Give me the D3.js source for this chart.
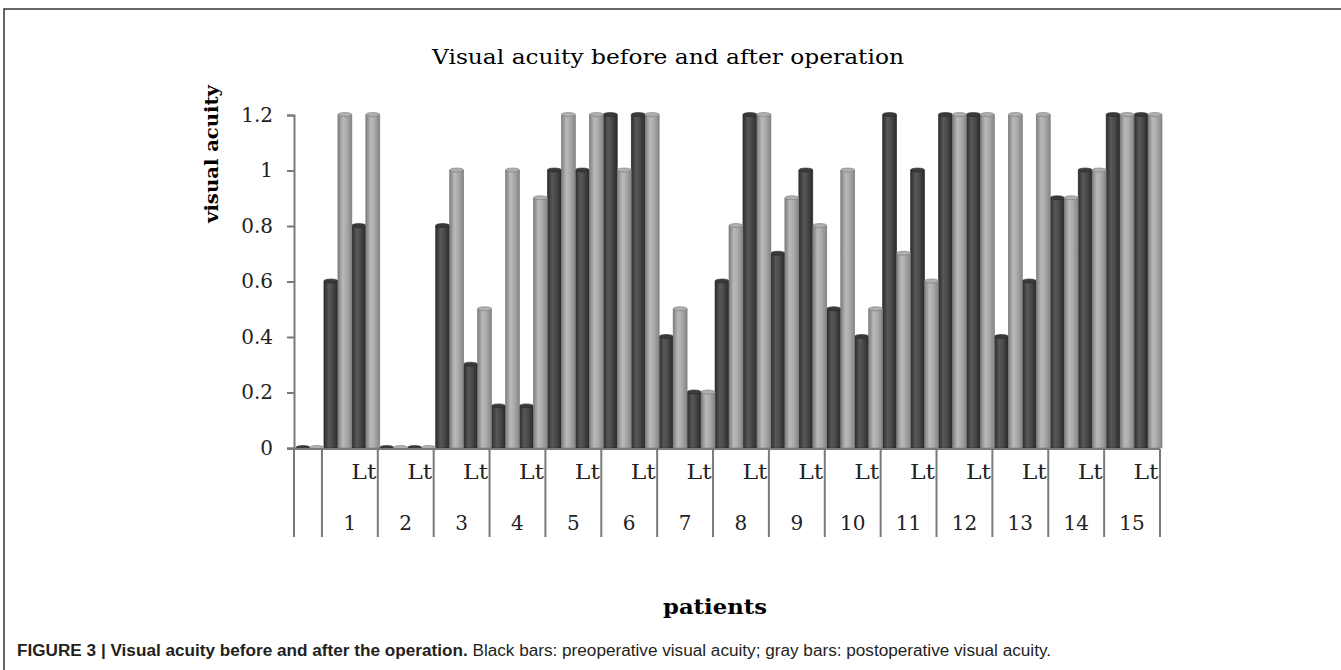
<!DOCTYPE html>
<html>
<head>
<meta charset="utf-8">
<script src="https://cdn.jsdelivr.net/npm/d3@7"></script>
<style>
  body { margin: 0; background: #fff; }
  svg { display: block; }
</style>
</head>
<body>
<svg id="chart" width="1341" height="670"></svg>
<script>
// patients and eyes; first slot is the blank leading category from the sheet
const patients = ["1","2","3","4","5","6","7","8","9","10","11","12","13","14","15"];
const sides = ["Rt", "Lt"];
const yTicks = [0, 0.2, 0.4, 0.6, 0.8, 1, 1.2];

// one value per slot: blank, then Rt, Lt for each patient
const preop  = [0, 0.6, 0.8, 0, 0, 0.8, 0.3, 0.15, 0.15, 1.0, 1.0, 1.2, 1.2, 0.4, 0.2,
                0.6, 1.2, 0.7, 1.0, 0.5, 0.4, 1.2, 1.0, 1.2, 1.2, 0.4, 0.6, 0.9, 1.0, 1.2, 1.2];
const postop = [0, 1.2, 1.2, 0, 0, 1.0, 0.5, 1.0, 0.9, 1.2, 1.2, 1.0, 1.2, 0.5, 0.2,
                0.8, 1.2, 0.9, 0.8, 1.0, 0.5, 0.7, 0.6, 1.2, 1.2, 1.2, 1.2, 0.9, 1.0, 1.2, 1.2];

const slots = [{ id: "s0", patient: "", side: "" }];
patients.forEach(p => sides.forEach(s => slots.push({ id: p + s, patient: p, side: s })));
slots.forEach((d, i) => { d.pre = preop[i]; d.post = postop[i]; });

const svg = d3.select("#chart");
const margin = { left: 294, right: 181, top: 115, bottom: 222 };
const width = 1341 - margin.left - margin.right,
  height = 670 - margin.top - margin.bottom;

// frame around the figure (right and bottom fall outside the crop)
svg.append("rect")
  .attr("x", 4).attr("y", 9)
  .attr("width", 1400).attr("height", 700)
  .attr("fill", "none").attr("stroke", "#333").attr("stroke-width", 1.5);

const defs = svg.append("defs");
const grad = (id, stops) => {
  const g = defs.append("linearGradient").attr("id", id)
    .attr("x1", "0%").attr("x2", "100%").attr("y1", "0%").attr("y2", "0%");
  stops.forEach(([o, c]) => g.append("stop").attr("offset", o).attr("stop-color", c));
};
grad("gDark", [["0%", "#2c2c2c"], ["35%", "#585858"], ["60%", "#4a4a4a"], ["100%", "#2a2a2a"]]);
grad("gGray", [["0%", "#7e7e7e"], ["35%", "#b9b9b9"], ["60%", "#acacac"], ["100%", "#858585"]]);

const g = svg.append("g").attr("transform", `translate(${margin.left},${margin.top})`);

const x = d3.scaleBand().domain(slots.map(d => d.id)).range([0, width]).padding(0);
const xs = d3.scaleBand().domain(["pre", "post"]).range([0, x.bandwidth()]).padding(0);
const y = d3.scaleLinear().domain([0, 1.2]).range([height, 0]);

// y axis
const yAxis = g.append("g")
  .call(d3.axisLeft(y).tickValues(yTicks).tickSize(7).tickPadding(14)
    .tickFormat(d => d === 0 || d === 1 ? d3.format("d")(d) : d3.format(".1f")(d)));
yAxis.select(".domain").attr("stroke", "#7a7a7a").attr("stroke-width", 2);
yAxis.selectAll(".tick line").attr("stroke", "#7a7a7a").attr("stroke-width", 2);
yAxis.selectAll(".tick text")
  .attr("font-family", "DejaVu Serif").attr("font-size", 20).attr("fill", "#222");

// bars
const series = [
  { key: "pre", fill: "url(#gDark)", cap: "#3a3a3a", edge: "#2a2a2a" },
  { key: "post", fill: "url(#gGray)", cap: "#b0b0b0", edge: "#777" }
];
const shift = 2;
const bw = xs.bandwidth();
series.forEach(s => {
  const sg = g.append("g");
  sg.selectAll("rect").data(slots).join("rect")
    .attr("x", d => x(d.id) + xs(s.key) + shift)
    .attr("y", d => y(d[s.key]))
    .attr("width", bw)
    .attr("height", d => height - y(d[s.key]))
    .attr("fill", s.fill)
    .attr("stroke", s.edge).attr("stroke-width", 0.6);
  sg.selectAll("ellipse").data(slots).join("ellipse")
    .attr("cx", d => x(d.id) + xs(s.key) + shift + bw / 2)
    .attr("cy", d => y(d[s.key]) - 0.5)
    .attr("rx", bw / 2).attr("ry", 2)
    .attr("fill", s.cap).attr("stroke", s.edge).attr("stroke-width", 0.6);
});

// x axis line
g.append("line")
  .attr("x1", -7).attr("x2", width)
  .attr("y1", height + 1).attr("y2", height + 1)
  .attr("stroke", "#7a7a7a").attr("stroke-width", 2);

// group separators between patients
const bounds = [0].concat(slots.map((d, i) => i).filter(i => i % 2 === 1).map(i => x(slots[i].id)), [width]);
g.selectAll(".sep").data(bounds).join("line")
  .attr("class", "sep")
  .attr("x1", d => d).attr("x2", d => d)
  .attr("y1", height + 1).attr("y2", height + 89)
  .attr("stroke", "#7a7a7a").attr("stroke-width", 2);

// inner labels: every other slot is shown (Lt)
g.selectAll(".inner").data(slots.filter(d => d.side === "Lt")).join("text")
  .attr("class", "inner")
  .attr("x", d => x(d.id) + x.bandwidth() / 2)
  .attr("y", height + 31)
  .attr("text-anchor", "middle")
  .attr("font-family", "DejaVu Serif").attr("font-size", 20).attr("fill", "#222")
  .attr("textLength", 25).attr("lengthAdjust", "spacingAndGlyphs")
  .text(d => d.side);

// outer labels: patient numbers centred over their two slots
g.selectAll(".outer").data(patients).join("text")
  .attr("class", "outer")
  .attr("x", p => x(p + "Rt") + x.bandwidth())
  .attr("y", height + 82)
  .attr("text-anchor", "middle")
  .attr("font-family", "DejaVu Serif").attr("font-size", 20).attr("fill", "#222")
  .text(p => p);

// titles
svg.append("text")
  .attr("x", 668).attr("y", 64)
  .attr("text-anchor", "middle")
  .attr("font-family", "DejaVu Serif").attr("font-size", 20)
  .attr("textLength", 472).attr("lengthAdjust", "spacingAndGlyphs")
  .text("Visual acuity before and after operation");

svg.append("text")
  .attr("transform", "translate(218,154) rotate(-90)")
  .attr("text-anchor", "middle")
  .attr("font-family", "DejaVu Serif").attr("font-size", 19).attr("font-weight", "bold")
  .attr("textLength", 138).attr("lengthAdjust", "spacingAndGlyphs")
  .text("visual acuity");

svg.append("text")
  .attr("x", 715).attr("y", 614)
  .attr("text-anchor", "middle")
  .attr("font-family", "DejaVu Serif").attr("font-size", 20).attr("font-weight", "bold")
  .attr("textLength", 104).attr("lengthAdjust", "spacingAndGlyphs")
  .text("patients");

// caption
const cap = svg.append("text")
  .attr("x", 17).attr("y", 656)
  .attr("font-family", "Liberation Sans").attr("font-size", 16).attr("fill", "#231f20")
  .attr("textLength", 1034).attr("lengthAdjust", "spacingAndGlyphs");
cap.append("tspan").attr("font-weight", "bold").text("FIGURE 3 | Visual acuity before and after the operation.");
cap.append("tspan").text(" Black bars: preoperative visual acuity; gray bars: postoperative visual acuity.");
</script>
</body>
</html>
